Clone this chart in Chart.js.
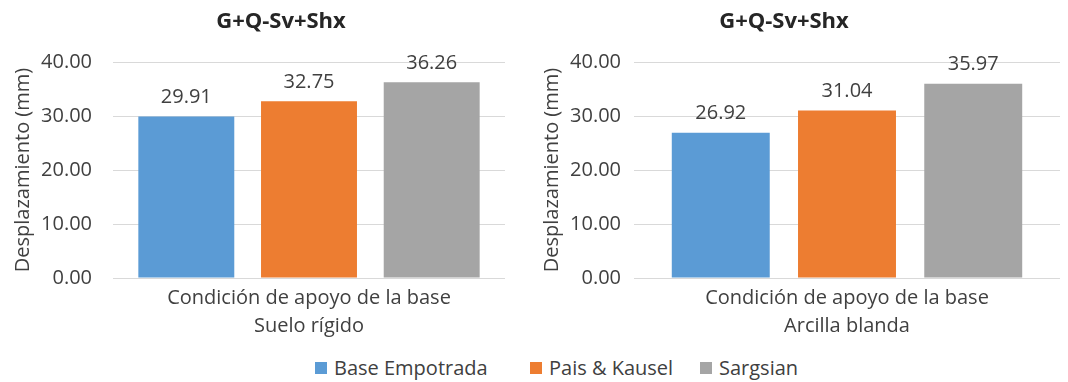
<!DOCTYPE html>
<html>
<head>
<meta charset="utf-8">
<script src="https://cdn.jsdelivr.net/npm/chart.js@4/dist/chart.umd.min.js"></script>
<style>
  html, body { margin: 0; padding: 0; background: #fff; }
  #wrap { position: relative; width: 1068px; height: 382px; overflow: hidden; font-family: "Open Sans", sans-serif; }
  .panel { position: absolute; top: 0; width: 534px; height: 345px; }
  #legend { position: absolute; top: 356px; left: 0; width: 1068px; height: 24px; }
  .item { position: absolute; top: 0; display: flex; align-items: center; font-size: 20px; color: #404040; white-space: nowrap; line-height: 24px; }
  .sw { width: 12px; height: 12px; margin-right: 7px; }
</style>
</head>
<body>
<div id="wrap">
  <div class="panel" style="left:0"><canvas id="c1" width="534" height="345"></canvas></div>
  <div class="panel" style="left:534px"><canvas id="c2" width="534" height="345"></canvas></div>
  <div id="legend"></div>
</div>
<script>
// Load combination shown above each panel
const chartTitle = 'G+Q-Sv+Shx';
const categoryLabels = ['Condición de apoyo de la base'];
const soilTypes = ['Suelo rígido', 'Arcilla blanda'];
const seriesNames = ['Base Empotrada', 'Pais & Kausel', 'Sargsian'];
const seriesColors = ['#5B9BD5', '#ED7D31', '#A5A5A5'];
// Displacements (mm)
const rigidSoilValues = [29.91, 32.75, 36.26];
const softClayValues = [26.92, 31.04, 35.97];
const yTickValues = [0, 10, 20, 30, 40];
const yAxisTitle = 'Desplazamiento (mm)';

const FONT = '"Open Sans", sans-serif';
const TEXT = '#404040';

// Writes each bar's value above it
const valueLabels = {
  id: 'valueLabels',
  afterDatasetsDraw(chart) {
    const ctx = chart.ctx;
    ctx.save();
    ctx.font = '20px ' + FONT;
    ctx.fillStyle = TEXT;
    ctx.textAlign = 'center';
    ctx.textBaseline = 'middle';
    chart.data.datasets.forEach((ds, i) => {
      chart.getDatasetMeta(i).data.forEach((bar, j) => {
        ctx.fillText(ds.data[j].toFixed(2), bar.x, bar.y - 19);
      });
    });
    ctx.restore();
  }
};

// Bold heading at the top of each panel
const panelTitle = {
  id: 'panelTitle',
  afterDraw(chart, args, opts) {
    const ctx = chart.ctx;
    ctx.save();
    ctx.font = 'bold 22px ' + FONT;
    ctx.fillStyle = '#262626';
    ctx.textAlign = 'center';
    ctx.textBaseline = 'middle';
    ctx.fillText(opts.text, opts.x, opts.y);
    ctx.restore();
  }
};

function makePanel(canvasId, values, soil, g) {
  return new Chart(document.getElementById(canvasId), {
    type: 'bar',
    data: {
      labels: categoryLabels,
      datasets: seriesNames.map((name, i) => ({
        label: name,
        data: [values[i]],
        backgroundColor: seriesColors[i],
        borderWidth: 0,
        categoryPercentage: g.cp,
        barPercentage: g.bp
      }))
    },
    plugins: [valueLabels, panelTitle],
    options: {
      responsive: false,
      animation: false,
      events: [],
      layout: { padding: { left: 0, right: g.padRight, top: 62, bottom: 0 } },
      plugins: {
        legend: { display: false },
        tooltip: { enabled: false },
        title: { display: false },
        panelTitle: { text: chartTitle, x: g.titleX, y: 22 }
      },
      scales: {
        x: {
          grid: { display: false, drawTicks: false },
          border: { display: false },
          ticks: { color: TEXT, font: { family: FONT, size: 20 }, padding: 8 },
          title: {
            display: true, text: soil, color: TEXT,
            font: { family: FONT, size: 20, lineHeight: 1.2 },
            padding: { top: 0, bottom: 7 }
          },
          afterFit(s) { s.height = 67; }
        },
        y: {
          min: 0, max: 40,
          afterBuildTicks(s) { s.ticks = yTickValues.map(v => ({ value: v })); },
          ticks: {
            color: TEXT, font: { family: FONT, size: 20 }, padding: g.tickPad,
            callback: v => Number(v).toFixed(2)
          },
          grid: { color: '#D9D9D9', lineWidth: 1, drawTicks: false },
          border: { display: false },
          title: {
            display: true, text: yAxisTitle, color: TEXT,
            font: { family: FONT, size: 20, lineHeight: 1.2 },
            padding: { top: g.axisTitlePad, bottom: 0 }
          },
          afterFit(s) { s.width = g.yWidth; }
        }
      }
    }
  });
}

makePanel('c1', rigidSoilValues, soilTypes[0],
  { yWidth: 113, tickPad: 21, axisTitlePad: 11, padRight: 29, cp: 0.939, bp: 0.782, titleX: 281 });
makePanel('c2', softClayValues, soilTypes[1],
  { yWidth: 100, tickPad: 13, axisTitlePad: 6, padRight: 8, cp: 0.889, bp: 0.776, titleX: 250 });

// Shared legend under both panels
const legendLeft = [315, 530, 700];
const legend = document.getElementById('legend');
seriesNames.forEach((name, i) => {
  const item = document.createElement('div');
  item.className = 'item';
  item.style.left = legendLeft[i] + 'px';
  const sw = document.createElement('span');
  sw.className = 'sw';
  sw.style.background = seriesColors[i];
  const tx = document.createElement('span');
  tx.textContent = name;
  item.appendChild(sw);
  item.appendChild(tx);
  legend.appendChild(item);
});
</script>
</body>
</html>
